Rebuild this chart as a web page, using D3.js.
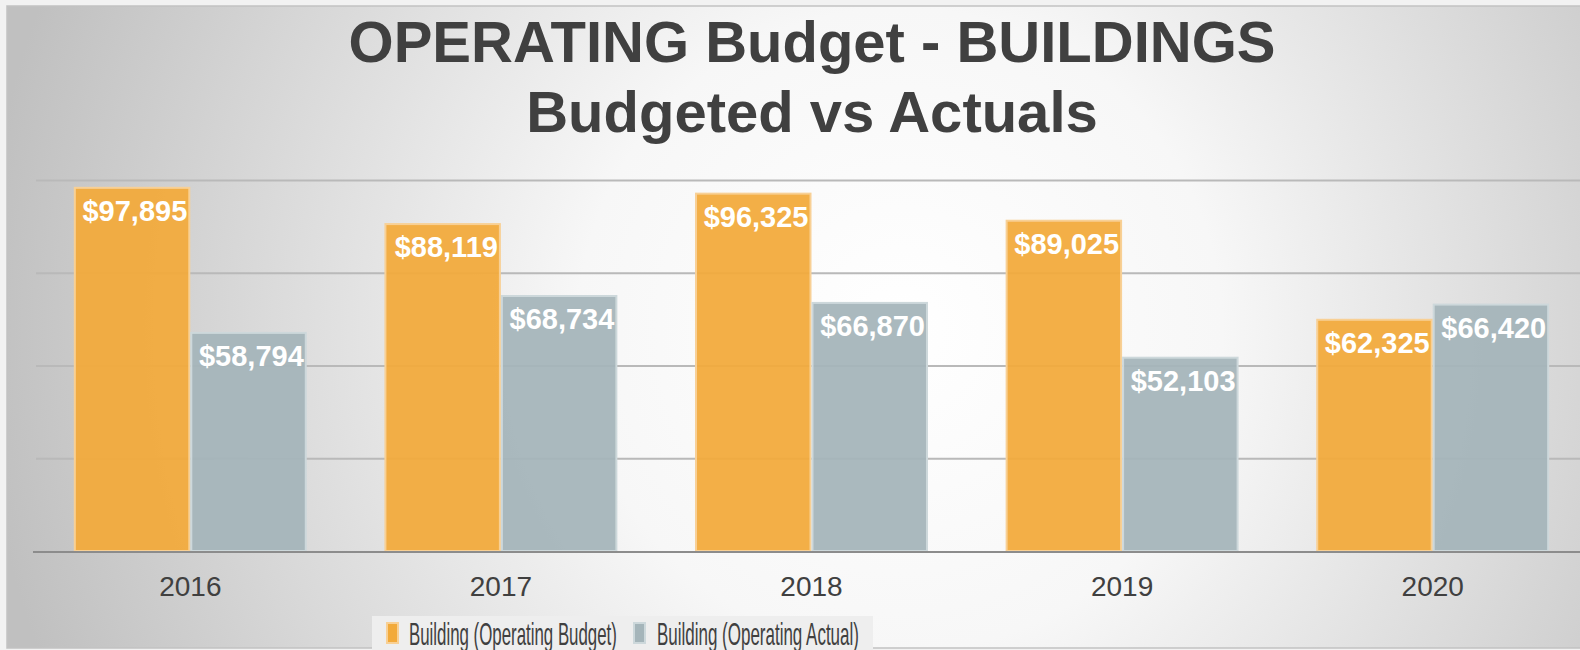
<!DOCTYPE html>
<html>
<head>
<meta charset="utf-8">
<script src="https://cdn.jsdelivr.net/npm/d3@7"></script>
<style>
  html, body { margin: 0; padding: 0; background: #f2f2f2; }
  svg { display: block; font-family: "Liberation Sans", Arial, Helvetica, sans-serif; }
</style>
</head>
<body>
<svg id="chart" width="1580" height="650"></svg>
<script>

// data
let years = ['2016', '2017', '2018', '2019', '2020']
let budget = [97895, 88119, 96325, 89025, 62325]
let actual = [58794, 68734, 66870, 52103, 66420]
let series_names = ['Building (Operating Budget)', 'Building (Operating Actual)']
let y_ticks = [0, 25000, 50000, 75000, 100000]
let title_lines = ['OPERATING Budget - BUILDINGS', 'Budgeted vs Actuals']

let fills = ['#f2aa3b', '#a5b5ba']
let strokes = ['#f8d095', '#cdd8db']

let svg = d3.select('#chart')
let W = 1580, H = 650

// background panel with radial shading
let defs = svg.append('defs')
let grad = defs.append('radialGradient')
  .attr('id', 'bg')
  .attr('gradientUnits', 'userSpaceOnUse')
  .attr('cx', 900).attr('cy', 330).attr('r', 920)
grad.append('stop').attr('offset', '0%').attr('stop-color', '#ffffff')
grad.append('stop').attr('offset', '35%').attr('stop-color', '#f7f7f7')
grad.append('stop').attr('offset', '100%').attr('stop-color', '#c0c0c0')

svg.append('rect')
  .attr('x', 7).attr('y', 6).attr('width', W).attr('height', 642)
  .attr('fill', 'url(#bg)')
  .attr('stroke', '#c2c2c2').attr('stroke-width', 1.5)

let x = d3.scaleBand()
  .domain(years)
  .range([35, 1588])
  .paddingInner(0.25)
  .paddingOuter(0.125)

let x_inner = d3.scaleBand()
  .domain([0, 1])
  .range([0, x.bandwidth()])

let y = d3.scaleLinear()
  .domain([0, 100000])
  .range([551, 180])

// gridlines
let grid = svg.append('g')
  .attr('transform', 'translate(36,0)')
  .call(d3.axisLeft(y).tickValues(y_ticks.slice(1)).tickSize(-(W - 36)).tickFormat(''))
grid.select('.domain').remove()
grid.selectAll('.tick line').attr('stroke', '#b9b9b9').attr('stroke-width', 2)

let rows = []
years.forEach((yr, i) => {
  rows.push({year: yr, s: 0, v: budget[i]})
  rows.push({year: yr, s: 1, v: actual[i]})
})

let bars = svg.append('g')
bars.selectAll('rect')
  .data(rows)
  .join('rect')
  .attr('x', d => x(d.year) + x_inner(d.s) + 1)
  .attr('y', d => y(d.v))
  .attr('width', x_inner.bandwidth() - 2)
  .attr('height', d => y(0) - y(d.v))
  .attr('fill', d => fills[d.s])
  .attr('fill-opacity', 0.94)
  .attr('stroke', d => strokes[d.s])
  .attr('stroke-width', 2)

// baseline
svg.append('line')
  .attr('x1', 33).attr('x2', W)
  .attr('y1', y(0) + 1).attr('y2', y(0) + 1)
  .attr('stroke', '#8c8c8c').attr('stroke-width', 2)

// value labels
let fmt = d3.format('$,')
bars.selectAll('text')
  .data(rows)
  .join('text')
  .attr('x', d => x(d.year) + x_inner(d.s) + x_inner.bandwidth() - 3)
  .attr('y', d => y(d.v) + 33)
  .attr('text-anchor', 'end')
  .attr('fill', '#ffffff')
  .attr('font-size', 29)
  .attr('font-weight', 'bold')
  .text(d => fmt(d.v))

// x axis labels
let xa = svg.append('g')
  .attr('transform', 'translate(0,' + (y(0) + 1) + ')')
  .call(d3.axisBottom(x).tickSize(0).tickPadding(24))
xa.select('.domain').remove()
xa.selectAll('text')
  .attr('font-size', 28)
  .attr('fill', '#404040')
  .attr('font-family', '"Liberation Sans", Arial, sans-serif')

// title
svg.append('g').selectAll('text')
  .data(title_lines)
  .join('text')
  .attr('x', 812)
  .attr('y', (d, i) => 62 + i * 70)
  .attr('text-anchor', 'middle')
  .attr('fill', '#404040')
  .attr('font-size', 58)
  .attr('font-weight', 'bold')
  .text(d => d)

// legend
let legend = svg.append('g')
legend.append('rect')
  .attr('x', 372).attr('y', 616).attr('width', 501).attr('height', 40)
  .attr('fill', '#eeeeee')

let leg_x = [386, 633]
let leg_text_x = [409, 657]
let leg_text_w = [208, 202]
series_names.forEach((name, i) => {
  legend.append('rect')
    .attr('x', leg_x[i] + 1).attr('y', 623)
    .attr('width', 11).attr('height', 20)
    .attr('fill', fills[i])
    .attr('stroke', strokes[i]).attr('stroke-width', 2)
  let t = legend.append('text')
    .attr('x', 0).attr('y', 0)
    .attr('font-size', 31)
    .attr('fill', '#404040')
    .text(name)
  // the legend font is a narrow one, squeeze it to the width seen
  let natural = t.node().getComputedTextLength()
  t.attr('transform', 'translate(' + leg_text_x[i] + ',645) scale(' + (leg_text_w[i] / natural) + ',1)')
})

</script>
</body>
</html>
